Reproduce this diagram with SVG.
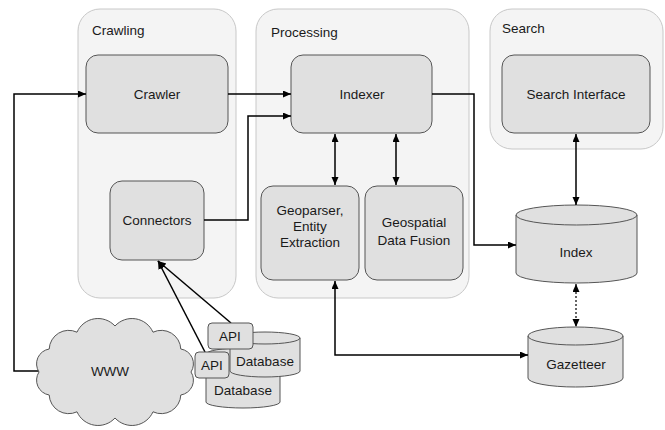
<svg xmlns="http://www.w3.org/2000/svg" width="665" height="430" viewBox="0 0 665 430">
<style>
  .grp { fill: #f4f4f4; stroke: #c8c8c8; stroke-width: 1; }
  .node { fill: #e0e0e0; stroke: #555555; stroke-width: 1; }
  .txt { font-family: "Liberation Sans", Arial, sans-serif; font-size: 13.5px; fill: #1a1a1a; text-anchor: middle; }
  .title { font-family: "Liberation Sans", Arial, sans-serif; font-size: 13.5px; fill: #1a1a1a; }
  .edge { fill: none; stroke: #000000; stroke-width: 1.5; }
  .dot { stroke-dasharray: 2 2; stroke-width: 1.2; }
</style>
<defs>
  <marker id="ah" markerUnits="userSpaceOnUse" markerWidth="10" markerHeight="10" refX="8" refY="3.5" orient="auto-start-reverse">
    <path d="M0,0 L8,3.5 L0,7 Z" fill="#000"/>
  </marker>
</defs>
<rect width="665" height="430" fill="#ffffff"/>

<g id="group-crawling">
  <rect class="grp" x="78" y="9" width="158" height="289" rx="22"/>
  <text class="title" x="92" y="35">Crawling</text>
</g>
<g id="group-processing">
  <rect class="grp" x="256" y="9" width="213" height="289" rx="22"/>
  <text class="title" x="271" y="37">Processing</text>
</g>
<g id="group-search">
  <rect class="grp" x="490" y="9" width="173" height="140" rx="22"/>
  <text class="title" x="502" y="33">Search</text>
</g>

<g id="crawler">
  <rect class="node" x="86" y="55" width="142" height="78" rx="12"/>
  <text class="txt" x="157" y="99">Crawler</text>
</g>
<g id="connectors">
  <rect class="node" x="110" y="181" width="94" height="79" rx="12"/>
  <text class="txt" x="157" y="225">Connectors</text>
</g>
<g id="indexer">
  <rect class="node" x="291" y="55" width="141" height="78" rx="12"/>
  <text class="txt" x="362" y="99">Indexer</text>
</g>
<g id="geoparser">
  <rect class="node" x="261" y="186" width="98" height="94" rx="12"/>
  <text class="txt" x="310" y="215">Geoparser,</text>
  <text class="txt" x="310" y="231">Entity</text>
  <text class="txt" x="310" y="247">Extraction</text>
</g>
<g id="geospatial">
  <rect class="node" x="365" y="186" width="98" height="94" rx="12"/>
  <text class="txt" x="414" y="227">Geospatial</text>
  <text class="txt" x="414" y="245">Data Fusion</text>
</g>
<g id="search-interface">
  <rect class="node" x="502" y="55" width="148" height="78" rx="12"/>
  <text class="txt" x="576" y="99">Search Interface</text>
</g>
<g id="index">
  <path class="node" d="M516,215 A60.5,10 0 0 1 637,215 V273 A60.5,10 0 0 1 516,273 Z"/>
  <path class="node" d="M516,215 A60.5,10 0 0 0 637,215" style="fill:none"/>
  <text class="txt" x="576" y="257">Index</text>
</g>
<g id="gazetteer">
  <path class="node" d="M528,336 A47.5,9 0 0 1 623,336 V378 A47.5,9 0 0 1 528,378 Z"/>
  <path class="node" d="M528,336 A47.5,9 0 0 0 623,336" style="fill:none"/>
  <text class="txt" x="576" y="369">Gazetteer</text>
</g>

<g id="connectors-edges">
  <path class="edge" d="M39,371 H14 V94 H86" marker-end="url(#ah)"/>
  <path class="edge" d="M228,94 H291" marker-end="url(#ah)"/>
  <path class="edge" d="M204,220 H248 V116 H291" marker-end="url(#ah)"/>
  <path class="edge" d="M335,134 V185" marker-start="url(#ah)" marker-end="url(#ah)"/>
  <path class="edge" d="M396,134 V185" marker-start="url(#ah)" marker-end="url(#ah)"/>
  <path class="edge" d="M432,94 H474 V245 H516" marker-end="url(#ah)"/>
  <path class="edge" d="M576,134 V205" marker-start="url(#ah)" marker-end="url(#ah)"/>
  <path class="edge dot" d="M576,284 V327" marker-start="url(#ah)" marker-end="url(#ah)"/>
  <path class="edge" d="M335,281 V355 H528" marker-start="url(#ah)" marker-end="url(#ah)"/>
  <path class="edge" d="M231,323 L158,261" marker-end="url(#ah)"/>
  <path class="edge" d="M205,352 L158,261" marker-end="url(#ah)"/>
</g>

<g id="www">
  <path class="node" d="M191,372 A15,15 0 0 1 180.8,395 A19.5,19.5 0 0 1 153,411.8 A23,23 0 0 1 115,418 A23,23 0 0 1 77,411.8 A19.5,19.5 0 0 1 49.2,395 A15,15 0 0 1 39,372 A15,15 0 0 1 49.2,349 A19.5,19.5 0 0 1 77,332.2 A23,23 0 0 1 115,326 A23,23 0 0 1 153,332.2 A19.5,19.5 0 0 1 180.8,349 A15,15 0 0 1 191,372 Z"/>
  <text class="txt" x="110" y="376">WWW</text>
</g>

<g id="database-2">
  <path class="node" d="M206,354 A37,6 0 0 1 280,354 V402 A37,6 0 0 1 206,402 Z"/>
  <text class="txt" x="243" y="395">Database</text>
</g>
<g id="database-1">
  <path class="node" d="M230,338 A35,6 0 0 1 300,338 V371 A35,6 0 0 1 230,371 Z"/>
  <path class="node" d="M230,338 A35,6 0 0 0 300,338" style="fill:none"/>
  <text class="txt" x="265" y="366">Database</text>
</g>
<g id="api-2">
  <rect class="node" x="195" y="352" width="34" height="26" rx="4"/>
  <text class="txt" x="212" y="370">API</text>
</g>
<g id="api-1">
  <rect class="node" x="208" y="323" width="45" height="26" rx="4"/>
  <text class="txt" x="230" y="341">API</text>
</g>
</svg>
